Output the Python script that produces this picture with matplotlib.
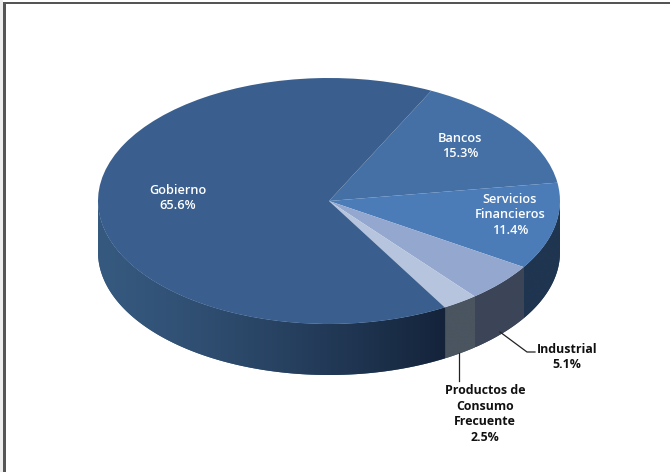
import numpy as np
import matplotlib
matplotlib.use('Agg')
import matplotlib.pyplot as plt
from matplotlib.colors import to_rgb
from matplotlib.patches import Polygon, Rectangle

# Values, clockwise from the top right
labels = ['Bancos\n15.3%', 'Servicios\nFinancieros\n11.4%', 'Industrial\n5.1%',
          'Productos de\nConsumo\nFrecuente\n2.5%', 'Gobierno\n65.6%']
values = [15.3, 11.4, 5.1, 2.5, 65.6]
top_colors = ['#4470a6', '#4b7cb8', '#93a7cf', '#b7c4de', '#3a5f8e']
# wall colour at the left and right end of each slice
wall_left = ['#1f3550', '#1f3550', '#3c4558', '#4a5560', '#36597f']
wall_right = ['#1f3550', '#1f3550', '#3c4558', '#4a5560', '#14233a']

W, H = 670, 472
cx, cy = 329, 201
rx, ry = 231, 123
depth = 51 / ry
start = 63.7

plt.rcParams['font.family'] = ['Open Sans', 'DejaVu Sans']

fig = plt.figure(figsize=(W / 100, H / 100), dpi=100)
ax = fig.add_axes([0, 0, 1, 1])
ax.pie(values, colors=top_colors, startangle=start, counterclock=False,
       radius=1, center=(0, 0), wedgeprops=dict(linewidth=0, zorder=3))


def px(x, y):
    return (x - cx) / rx, (cy - y) / ry


# side wall, only the front half of each slice shows
ends = start - np.cumsum(values) * 3.6
begins = np.r_[start, ends[:-1]]
for b, e, c0, c1 in zip(begins, ends, wall_left, wall_right):
    hi = min(b, 0)
    lo = max(e, -180)
    if hi <= lo:
        continue
    t = np.radians(np.linspace(lo, hi, 200))
    xs, ys = np.cos(t), np.sin(t)
    outline = np.r_[np.c_[xs, ys], np.c_[xs, ys - depth][::-1]]
    shape = Polygon(outline, closed=True, facecolor=c0, lw=0, zorder=1.5)
    ax.add_patch(shape)
    # left to right gradient clipped to the wall, stays light for longer on the left
    f = np.linspace(0, 1, 256)[None, :, None] ** 1.3
    grad = np.array(to_rgb(c0))[None, None, :] * (1 - f) + np.array(to_rgb(c1))[None, None, :] * f
    im = ax.imshow(grad, extent=(xs.min(), xs.max(), (ys - depth).min(), ys.max()),
                   aspect='auto', zorder=2, interpolation='bilinear')
    im.set_clip_path(shape)

ax.set_aspect('auto')
ax.set_xlim(-cx / rx, (W - cx) / rx)
ax.set_ylim((cy - H) / ry, cy / ry)
ax.axis('off')

# leader lines
x1, y1 = zip(px(500, 332), px(527, 352), px(535, 352))
ax.plot(x1, y1, color='#222222', lw=0.9, zorder=4)
x2, y2 = zip(px(459, 353), px(459, 381))
ax.plot(x2, y2, color='#222222', lw=0.9, zorder=4)

# slice labels
label_pos = [(460, 146), (510, 215), (567, 357), (485, 414), (178, 198)]
label_col = ['white', 'white', '#111111', '#111111', 'white']
label_weight = ['semibold', 'semibold', 'bold', 'bold', 'semibold']
label_size = [9.2, 9.2, 8.9, 8.9, 9.2]
for s, p, c, w, fs in zip(labels, label_pos, label_col, label_weight, label_size):
    lx, ly = px(*p)
    ax.text(lx, ly, s, ha='center', va='center', color=c, fontsize=fs,
            fontweight=w, linespacing=1.26, zorder=5)

# chart title is cut off by the top edge of the image
fig.text(373 / W, 1 + 1 / H, 'Sectores del Total de Cartera', ha='center', va='bottom',
         fontsize=9, color='#555555')

# frame of the pasted picture
fig.add_artist(Rectangle((0, 0), 3 / W, 1, transform=fig.transFigure, color='#eeeeee', lw=0))
fig.add_artist(Rectangle((3 / W, 0), 2.5 / W, 1 - 2 / H, transform=fig.transFigure, color='#555555', lw=0))
fig.add_artist(Rectangle((3 / W, 1 - 4 / H), 1, 2 / H, transform=fig.transFigure, color='#555555', lw=0))

fig.savefig('out.png', dpi=100)
